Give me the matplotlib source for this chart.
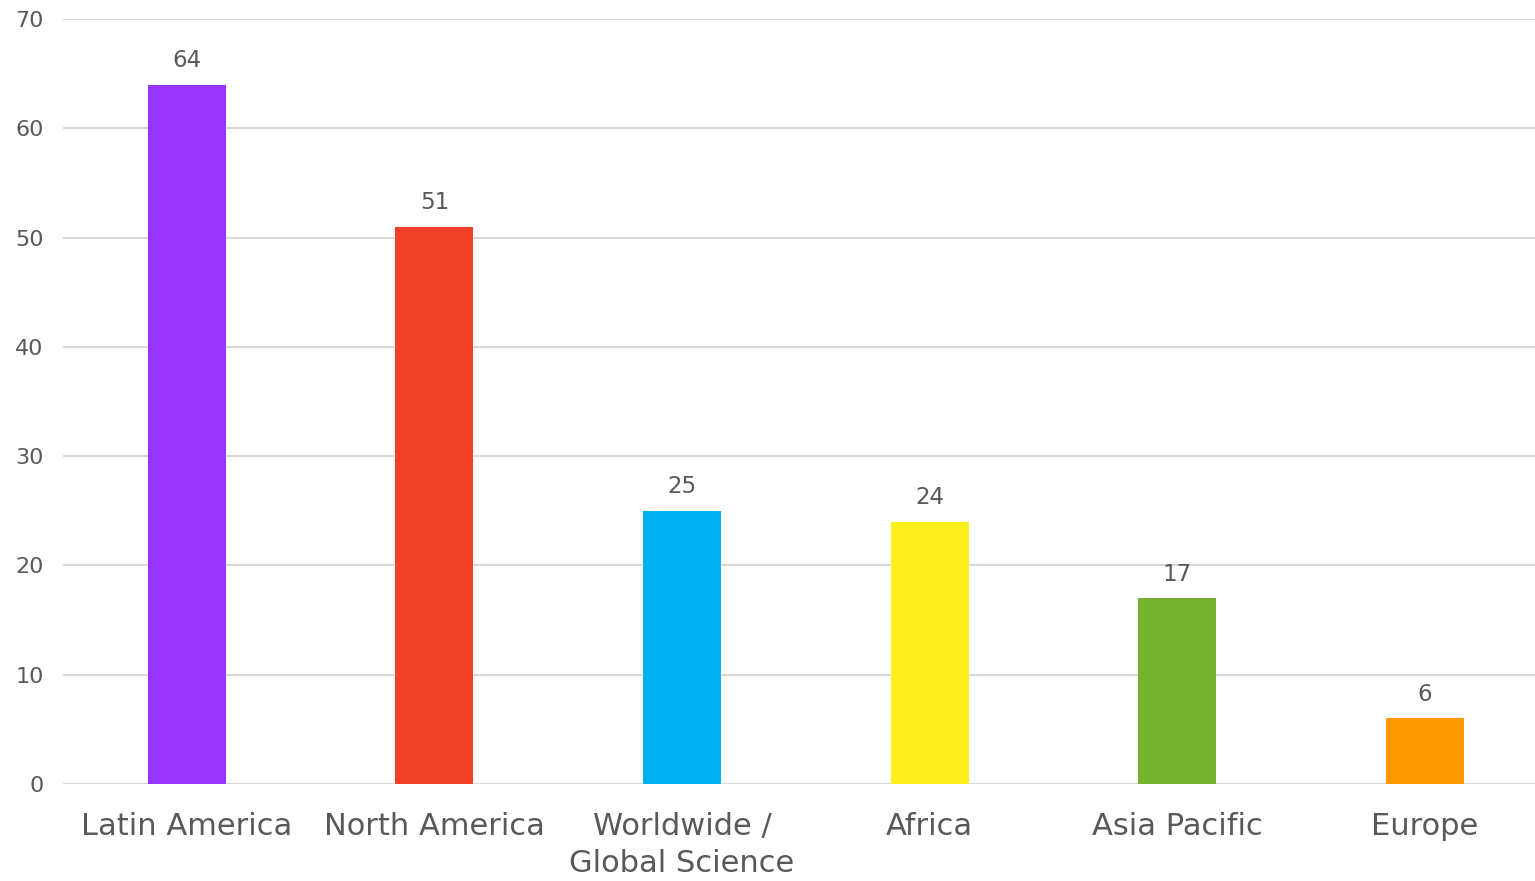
import matplotlib.pyplot as plt

regions = ['Latin America', 'North America', 'Worldwide /\nGlobal Science',
           'Africa', 'Asia Pacific', 'Europe']
counts = [64, 51, 25, 24, 17, 6]
colors = ['#9933FF', '#F0402A', '#00B0F0', '#FCF01C', '#77B130', '#FF9900']

grey = '#595959'

fig = plt.figure(figsize=(15.35, 8.81), dpi=100)
ax = fig.add_axes([0.041, 0.1101, 0.968, 0.8683])

x = range(len(regions))
bars = ax.bar(x, counts, width=0.315, color=colors, zorder=3)

for rect, val in zip(bars, counts):
    ax.annotate(str(val), (rect.get_x() + rect.get_width() / 2, val),
                xytext=(0, 9), textcoords='offset points',
                ha='center', va='bottom', fontsize=16.5, color=grey)

ax.set_xlim(-0.5, len(regions) - 0.5)
ax.set_ylim(0, 70)
ax.set_yticks(range(0, 71, 10))
ax.set_xticks(list(x))
ax.set_xticklabels(regions, fontsize=22, color=grey, linespacing=1.35)
ax.tick_params(axis='y', labelsize=16, labelcolor=grey, length=0, pad=14)
ax.tick_params(axis='x', length=0, pad=20)

ax.grid(axis='y', color='#D9D9D9', linewidth=1.5, zorder=0)
for s in ax.spines.values():
    s.set_visible(False)

fig.savefig('out.png', dpi=100)
